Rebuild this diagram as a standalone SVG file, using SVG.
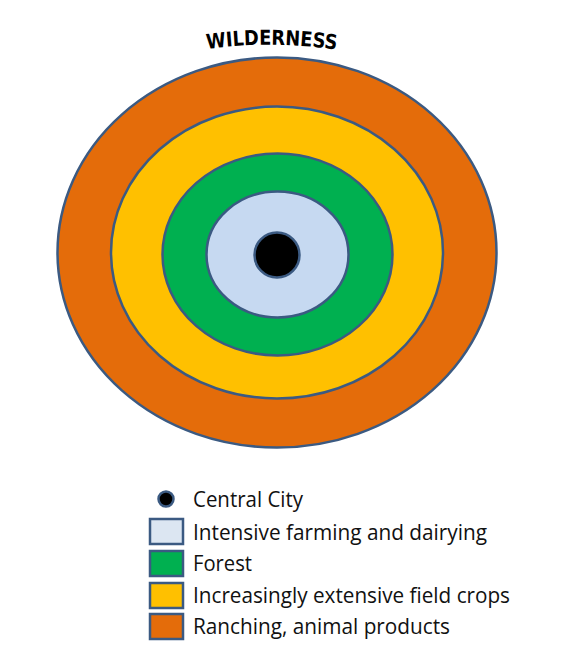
<svg xmlns="http://www.w3.org/2000/svg" width="575" height="663" viewBox="0 0 575 663">
<style>
.ring{stroke:#3B5A82;stroke-width:2.5}
.lg{font-family:"Open Sans","Liberation Sans",sans-serif;font-size:22.5px;fill:#111}
.box{stroke:#3B5A82;stroke-width:2.5}
</style>
<defs>
<path id="arc" d="M207,49 Q272,40 339,50"/>
</defs>
<rect width="575" height="663" fill="#fff"/>
<g id="wilderness">
<text font-family="'DejaVu Sans','Liberation Sans',sans-serif" font-weight="bold" font-size="20.5" fill="#000"><textPath href="#arc" textLength="130" lengthAdjust="spacingAndGlyphs">WILDERNESS</textPath></text>
</g>
<g id="ranching"><ellipse class="ring" cx="277" cy="252.5" rx="219.5" ry="195" fill="#E46C0A"/></g>
<g id="field-crops"><ellipse class="ring" cx="277" cy="252.5" rx="166" ry="146" fill="#FFC000"/></g>
<g id="forest"><ellipse class="ring" cx="277.5" cy="254.5" rx="115" ry="101" fill="#00B050"/></g>
<g id="intensive"><ellipse class="ring" cx="277.5" cy="254.5" rx="71" ry="63" fill="#C6D9F1"/></g>
<g id="city"><circle cx="277" cy="255" r="22.5" fill="#000" stroke="#3B5A82" stroke-width="2.5"/></g>
<g id="legend">
<circle cx="166" cy="499" r="7.5" fill="#000" stroke="#3B5A82" stroke-width="2.5"/>
<text class="lg" x="193" y="507" textLength="110" lengthAdjust="spacingAndGlyphs">Central City</text>
<rect class="box" x="150" y="519" width="33" height="25" fill="#DCE6F2"/>
<text class="lg" x="193" y="540" textLength="294" lengthAdjust="spacingAndGlyphs">Intensive farming and dairying</text>
<rect class="box" x="150" y="551" width="33" height="25" fill="#00B050"/>
<text class="lg" x="193" y="571" textLength="59" lengthAdjust="spacingAndGlyphs">Forest</text>
<rect class="box" x="150" y="583" width="33" height="25" fill="#FFC000"/>
<text class="lg" x="193" y="603" textLength="317" lengthAdjust="spacingAndGlyphs">Increasingly extensive field crops</text>
<rect class="box" x="150" y="614" width="33" height="25" fill="#E46C0A"/>
<text class="lg" x="193" y="634" textLength="257" lengthAdjust="spacingAndGlyphs">Ranching, animal products</text>
</g>
</svg>
